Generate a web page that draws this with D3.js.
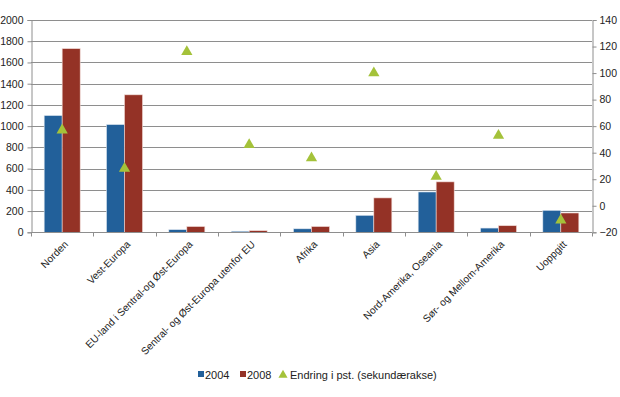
<!DOCTYPE html>
<html>
<head>
<meta charset="utf-8">
<script src="https://cdn.jsdelivr.net/npm/d3@7"></script>
<style>
  body { margin: 0; background: #fff; }
  text { font-family: "Liberation Sans", Arial, sans-serif; fill: #222; }
</style>
</head>
<body>
<div id="chart"></div>
<script>
// data
var categories = ["Norden", "Vest-Europa", "EU-land i Sentral-og Øst-Europa",
    "Sentral- og Øst-Europa utenfor EU", "Afrika", "Asia",
    "Nord-Amerika, Oseania", "Sør- og Mellom-Amerika", "Uoppgitt"];
var values2004 = [1100, 1015, 25, 10, 33, 160, 380, 40, 207];
var values2008 = [1730, 1295, 54, 15, 54, 324, 475, 62, 182];
var endring = [57, 28, 116, 46, 36, 100, 22, 53, -11];
var leftTicks = [0, 200, 400, 600, 800, 1000, 1200, 1400, 1600, 1800, 2000];
var rightTicks = [-20, 0, 20, 40, 60, 80, 100, 120, 140];

var width = 620, height = 397;
var margin = {t: 20, r: 28, b: 165, l: 31};

var svg = d3.select("#chart")
    .append("svg")
    .attr("width", width)
    .attr("height", height);

var x = d3.scaleBand()
    .domain(categories)
    .range([margin.l, width - margin.r]);

var y = d3.scaleLinear()
    .domain([0, 2000])
    .range([height - margin.b + 0.3, margin.t]);

var y2 = d3.scaleLinear()
    .domain([-20, 140])
    .range([height - margin.b + 0.3, margin.t]);

var gridColor = "#8e8e8e";

// horizontal grid lines
svg.append("g")
    .selectAll("line")
    .data(leftTicks)
    .enter()
    .append("line")
    .attr("x1", margin.l)
    .attr("x2", width - margin.r)
    .attr("y1", function(d){ return Math.round(y(d)) + 0.5; })
    .attr("y2", function(d){ return Math.round(y(d)) + 0.5; })
    .style("stroke", gridColor)
    .style("stroke-width", 1);

// bars
var barW = 18;
var groups = svg.append("g")
    .selectAll("g")
    .data(categories)
    .enter()
    .append("g")
    .attr("transform", function(d){ return "translate(" + (x(d) + x.bandwidth() / 2) + ",0)"; });

groups.append("rect")
    .attr("x", -barW)
    .attr("width", barW)
    .attr("y", function(d, i){ return y(values2004[i]); })
    .attr("height", function(d, i){ return y(0) - y(values2004[i]); })
    .style("fill", "#22609a")
    .style("stroke", "#dde6f0")
    .style("stroke-width", 0.6);

groups.append("rect")
    .attr("x", 0)
    .attr("width", barW)
    .attr("y", function(d, i){ return y(values2008[i]); })
    .attr("height", function(d, i){ return y(0) - y(values2008[i]); })
    .style("fill", "#943226")
    .style("stroke", "#f0d8d4")
    .style("stroke-width", 0.6);

// triangles (secondary axis)
var tri = d3.symbol().type(d3.symbolTriangle).size(55);
groups.append("path")
    .attr("d", tri)
    .attr("transform", function(d, i){ return "translate(0," + y2(endring[i]) + ")"; })
    .style("fill", "#a4c23a");

// left axis
var leftAxis = d3.axisLeft(y)
    .tickValues(leftTicks)
    .tickFormat(d3.format("d"))
    .tickSize(4)
    .tickPadding(4);
var gl = svg.append("g")
    .attr("transform", "translate(" + (margin.l + 0.5) + ",0)")
    .call(leftAxis);

// right axis
var rightAxis = d3.axisRight(y2)
    .tickValues(rightTicks)
    .tickFormat(d3.format("d"))
    .tickSize(4)
    .tickPadding(3);
var gr = svg.append("g")
    .attr("transform", "translate(" + (width - margin.r + 0.5) + ",0)")
    .call(rightAxis);

// bottom axis with ticks between categories
var gb = svg.append("g")
    .attr("transform", "translate(0," + (Math.round(y(0)) + 0.5) + ")");
gb.append("line")
    .attr("x1", margin.l)
    .attr("x2", width - margin.r)
    .style("stroke", gridColor);
gb.selectAll(".sep")
    .data(d3.range(categories.length + 1))
    .enter()
    .append("line")
    .attr("x1", function(i){ return Math.round(margin.l + i * x.step()) + 0.5; })
    .attr("x2", function(i){ return Math.round(margin.l + i * x.step()) + 0.5; })
    .attr("y1", 0)
    .attr("y2", 4)
    .style("stroke", gridColor);

gb.selectAll(".lab")
    .data(categories)
    .enter()
    .append("text")
    .attr("transform", function(d){ return "translate(" + (x(d) + x.bandwidth() / 2 + 4) + ",10) rotate(-45)"; })
    .attr("text-anchor", "end")
    .attr("dy", "0.35em")
    .style("font-size", "10.2px")
    .text(function(d){ return d; });

[gl, gr].forEach(function(g){
    g.select(".domain").style("stroke", gridColor);
    g.selectAll(".tick line").style("stroke", gridColor);
    g.selectAll(".tick text")
        .style("font-size", "10.5px")
        .style("font-family", "'Liberation Sans', Arial, sans-serif")
        .style("fill", "#222");
});

// legend
var legend = svg.append("g")
    .attr("transform", "translate(198,375)");
legend.append("rect")
    .attr("x", 0).attr("y", -4)
    .attr("width", 6).attr("height", 6)
    .style("fill", "#22609a");
legend.append("text")
    .attr("x", 7).attr("y", 4)
    .style("font-size", "11px")
    .text("2004");
legend.append("rect")
    .attr("x", 42).attr("y", -4)
    .attr("width", 6).attr("height", 6)
    .style("fill", "#943226");
legend.append("text")
    .attr("x", 49).attr("y", 4)
    .style("font-size", "11px")
    .text("2008");
legend.append("path")
    .attr("d", d3.symbol().type(d3.symbolTriangle).size(36))
    .attr("transform", "translate(85,0)")
    .style("fill", "#a4c23a");
legend.append("text")
    .attr("x", 92).attr("y", 4)
    .style("font-size", "11px")
    .text("Endring i pst. (sekundærakse)");
</script>
</body>
</html>
